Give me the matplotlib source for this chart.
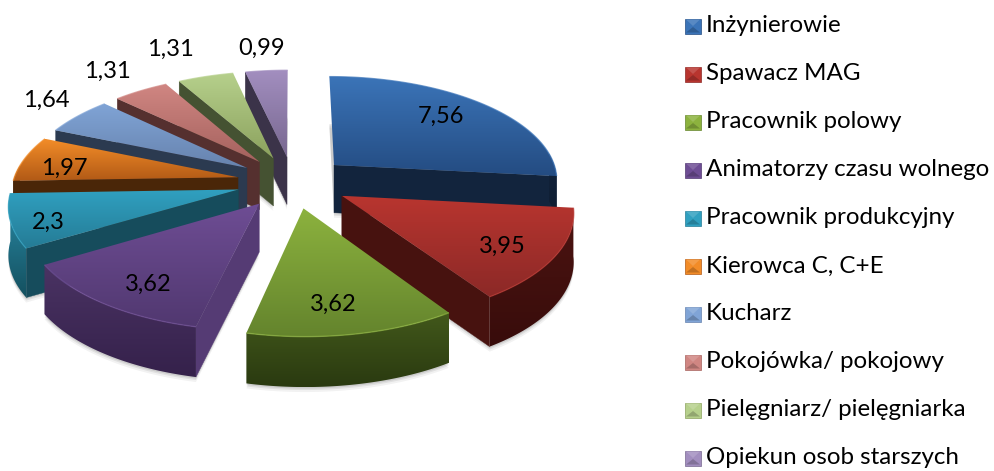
import numpy as np
import matplotlib
matplotlib.use('Agg')
import matplotlib.pyplot as plt
from matplotlib.colors import LinearSegmentedColormap, to_rgb
from matplotlib.patches import Polygon, Rectangle

plt.rcParams['font.family'] = ['Lato', 'DejaVu Sans']

categories = ['Inżynierowie', 'Spawacz MAG', 'Pracownik polowy', 'Animatorzy czasu wolnego',
              'Pracownik produkcyjny', 'Kierowca C, C+E', 'Kucharz', 'Pokojówka/ pokojowy',
              'Pielęgniarz/ pielęgniarka', 'Opiekun osob starszych']
values = [7.56, 3.95, 3.62, 3.62, 2.3, 1.97, 1.64, 1.31, 1.31, 0.99]
value_labels = ['7,56', '3,95', '3,62', '3,62', '2,3', '1,97', '1,64', '1,31', '1,31', '0,99']

# top gradient start/end, radial wall, arc wall start/end
top_colors = [('#3B74B8', '#244C82'), ('#B8352F', '#8C2927'), ('#8CB23E', '#64842D'),
              ('#6E4D94', '#513870'), ('#30A0C0', '#257C96'), ('#F28C28', '#B25A16'),
              ('#80A4D6', '#6783AE'), ('#D08682', '#A5625E'), ('#B6D08C', '#8CA25E'),
              ('#A28EBF', '#786890')]
side_colors = ['#12243D', '#47120F', '#3A4D16', '#553B74', '#164C5C', '#4A2608',
               '#2B3A50', '#55302F', '#455232', '#3B3349']
arc_colors = [('#12243D', '#0E1C30'), ('#4C1411', '#380C0B'), ('#42581B', '#2A3A10'),
              ('#4A3363', '#35214B'), ('#2A8CA8', '#14505F'), ('#4A2608', '#4A2608'),
              ('#2B3A50', '#2B3A50'), ('#55302F', '#55302F'), ('#455232', '#455232'),
              ('#3B3349', '#3B3349')]
label_xy = [(441, 116), (502, 246), (333, 304), (148, 284), (48, 222),
            (64, 168), (46, 100), (107, 71), (170, 49), (262, 48)]
legend_y = [26, 74, 122, 170, 218, 266, 314, 362, 410, 458]

# projection of the pie disc, pixels
cx, cy = 293, 182
rx, ry = 225, 104
persp = 0.13
depth = 48
explode = 0.25


def project(u, v, low=0.0):
    d = 1 + persp * v
    return cx + rx * u / d, cy - ry * v / d + low * depth / (1 + 0.3 * persp * v)


def grad_fill(ax, pts, c0, c1, z):
    pts = np.array(pts)
    poly = Polygon(pts, closed=True, facecolor='none', edgecolor='none', zorder=z)
    ax.add_patch(poly)
    cmap = LinearSegmentedColormap.from_list('g', [c0, c1])
    y0, y1 = pts[:, 1].min(), pts[:, 1].max()
    x0, x1 = pts[:, 0].min(), pts[:, 0].max()
    im = ax.imshow(np.linspace(0, 1, 64).reshape(-1, 1), cmap=cmap, aspect='auto',
                   extent=(x0, x1, y1, y0), zorder=z, interpolation='bilinear')
    im.set_clip_path(poly)


def shade(c, f):
    rgb = np.array(to_rgb(c))
    if f > 1:
        return tuple(rgb + (1 - rgb) * (f - 1))
    return tuple(rgb * f)


fig = plt.figure(figsize=(9.95, 4.71), dpi=100)
ax = fig.add_axes([0, 0, 1, 1])

total = sum(values)
edges = np.concatenate([[0], np.cumsum(values)]) / total * 2 * np.pi
mids = (edges[:-1] + edges[1:]) / 2
order = np.argsort(-np.cos(mids))

z = 2
for i in order:
    t0, t1 = edges[i], edges[i + 1]
    ou, ov = explode * np.sin(mids[i]), explode * np.cos(mids[i])
    th = np.linspace(t0, t1, 60)
    au, av = ou + np.sin(th), ov + np.cos(th)

    tx, ty = project(au, av)
    bx, by = project(au, av, 1)
    ax0, ay0 = project(ou, ov)
    ax1, ay1 = project(ou, ov, 1)

    # soft shadow under the slice
    for grow, alpha in ((5, 0.05), (3, 0.07), (1.5, 0.09)):
        sh = np.vstack([np.column_stack([bx, by + grow]), [[ax1, ay1 + grow]]])
        ax.add_patch(Polygon(sh, closed=True, facecolor='#000000', edgecolor='none', alpha=alpha, zorder=1))

    # back walls are skipped, only those facing the viewer are drawn
    if np.sin(t0) < 0:
        pts = [(ax0, ay0), (tx[0], ty[0]), (bx[0], by[0]), (ax1, ay1)]
        ax.add_patch(Polygon(pts, closed=True, facecolor=side_colors[i], edgecolor=side_colors[i], lw=0.3, zorder=z))
        z += 1
    if np.sin(t1) > 0:
        pts = [(ax0, ay0), (tx[-1], ty[-1]), (bx[-1], by[-1]), (ax1, ay1)]
        ax.add_patch(Polygon(pts, closed=True, facecolor=side_colors[i], edgecolor=side_colors[i], lw=0.3, zorder=z))
        z += 1
    front = np.cos(th) < 0.12
    if front.any():
        pts = np.vstack([np.column_stack([tx[front], ty[front]]),
                         np.column_stack([bx[front], by[front]])[::-1]])
        grad_fill(ax, pts, arc_colors[i][0], arc_colors[i][1], z)
        z += 1

    top = np.vstack([[[ax0, ay0]], np.column_stack([tx, ty])])
    grad_fill(ax, top, top_colors[i][0], top_colors[i][1], z)
    z += 1
    ax.plot(tx, ty, color=top_colors[i][0], lw=1.0, alpha=0.7, zorder=z, solid_capstyle='butt')
    z += 1

for (x, y), lab in zip(label_xy, value_labels):
    ax.text(x, y, lab, fontsize=17, color='black', ha='center', va='center', zorder=z)

# legend with bevelled keys
kw, kh = 16, 15
kx = 685
for y, name, tc in zip(legend_y, categories, top_colors):
    y0, y1 = y - kh / 2, y + kh / 2
    ax.add_patch(Rectangle((kx, y0), kw, kh, facecolor=tc[0], edgecolor=tc[1], lw=0.5, zorder=z))
    ax.add_patch(Polygon([(kx + 1, y0 + 1), (kx + kw - 1, y0 + 1), (kx + kw / 2, y)], closed=True,
                         facecolor=shade(tc[0], 1.15), edgecolor='none', zorder=z))
    ax.add_patch(Polygon([(kx + 1, y1 - 1), (kx + kw - 1, y1 - 1), (kx + kw / 2, y + 1)], closed=True,
                         facecolor=shade(tc[0], 0.8), edgecolor='none', zorder=z))
    ax.text(706, y, name, fontsize=17.4, color='black', ha='left', va='center', zorder=z)

ax.set_xlim(0, 995)
ax.set_ylim(471, 0)
ax.axis('off')

plt.savefig('out.png', dpi=100)
